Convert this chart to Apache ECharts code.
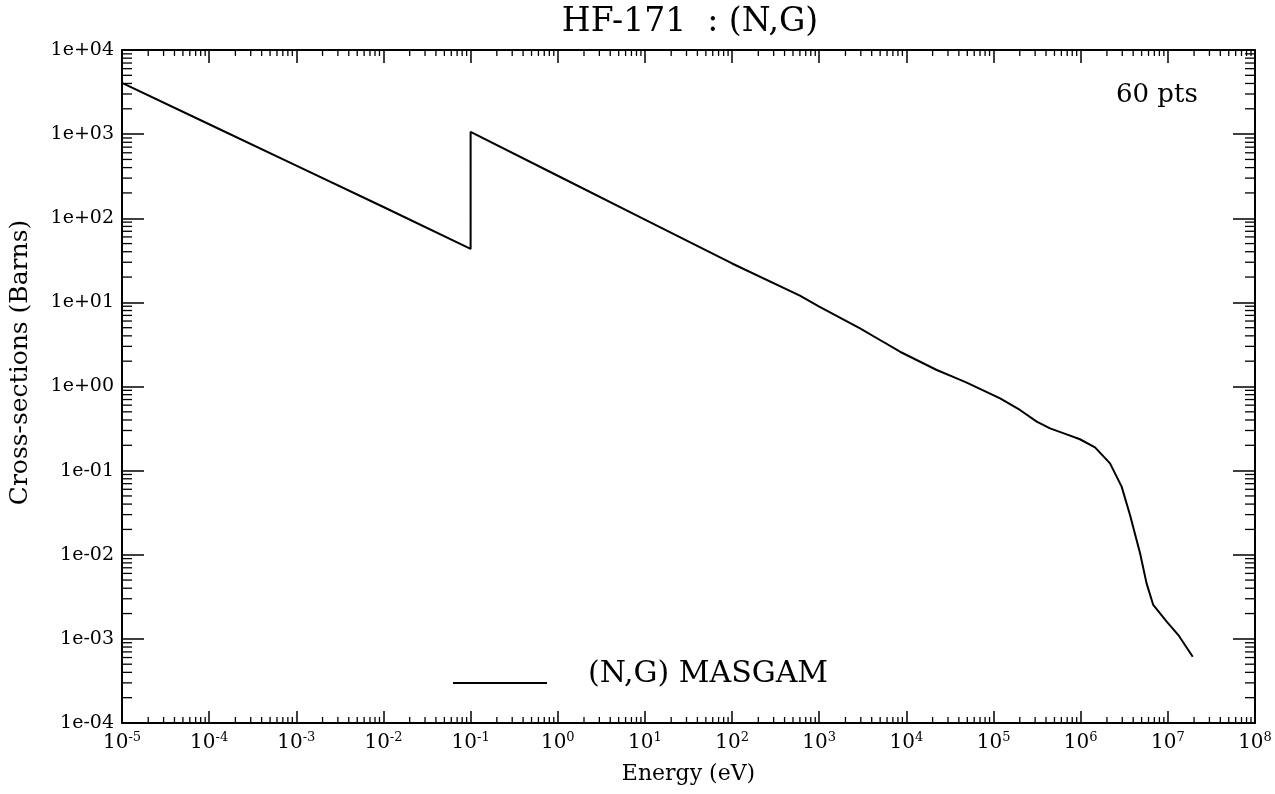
<!DOCTYPE html>
<html>
<head>
<meta charset="utf-8">
<title>HF-171 : (N,G)</title>
<script src="https://cdn.jsdelivr.net/npm/echarts@6/dist/echarts.min.js"></script>
<style>
  html, body { margin: 0; padding: 0; background: #fff; }
  #chart { width: 1275px; height: 794px; }
</style>
</head>
<body>
<div id="chart"></div>
<script>
// Capture cross-section for Hf-171, MASGAM evaluation (energy in eV, sigma in barns)
const energy = [
  1e-5, 1e-4, 1e-3, 1e-2, 0.1,
  0.1, 1, 10, 100, 600, 1000, 2940, 4980, 8450,
  2.23e4, 3.78e4, 4.92e4, 1.19e5, 2.01e5, 3.13e5, 4.45e5, 6.9e5, 9.8e5,
  1.46e6, 2.17e6, 2.95e6, 3.68e6, 4.8e6, 5.7e6, 6.8e6, 9.7e6, 1.32e7, 1.93e7
];
const sigma = [
  4060, 1310, 423, 136, 43.2,
  1065, 320, 96.4, 29.0, 12.0, 8.9, 4.92, 3.57, 2.59,
  1.57, 1.25, 1.11, 0.724, 0.526, 0.382, 0.318, 0.270, 0.236,
  0.189, 0.122, 0.0645, 0.0297, 0.0104, 0.00457, 0.00253, 0.0016, 0.00111, 0.000614
];

const seriesName = '(N,G) MASGAM';
const chartTitle = 'HF-171  : (N,G)';
const pointCount = '60 pts';
const xAxisTitle = 'Energy (eV)';
const yAxisTitle = 'Cross-sections (Barns)';

// Axis ranges as decade exponents
const xExpMin = -5, xExpMax = 8;
const yExpMin = -4, yExpMax = 4;
const X_MIN = Math.pow(10, xExpMin), X_MAX = Math.pow(10, xExpMax);
const Y_MIN = Math.pow(10, yExpMin), Y_MAX = Math.pow(10, yExpMax);

// Minor log ticks (2..9 within each decade)
function minorTicks(e0, e1) {
  const out = [];
  for (let e = e0; e < e1; e++) {
    for (let k = 2; k <= 9; k++) out.push(k * Math.pow(10, e));
  }
  return out;
}
const xMinor = minorTicks(xExpMin, xExpMax);
const yMinor = minorTicks(yExpMin, yExpMax);

const FONT = 'DejaVu Serif';
const INK = '#000';

function expOf(v) { return Math.round(Math.log10(v)); }
function yLabel(v) {
  const e = expOf(v);
  const s = e < 0 ? '-' : '+';
  const a = Math.abs(e);
  return '1e' + s + (a < 10 ? '0' + a : String(a));
}
function xLabel(v) {
  return '{b|10}{s|' + expOf(v) + '}';
}

const chart = echarts.init(document.getElementById('chart'), null, { renderer: 'canvas' });

const option = {
  backgroundColor: '#fff',
  animation: false,
  title: [
    {
      text: chartTitle,
      left: 685,
      textAlign: 'center',
      top: 1,
      textStyle: { fontFamily: FONT, fontSize: 33, fontWeight: 'normal', color: INK }
    },
    {
      text: pointCount,
      left: 1111,
      top: 77,
      textStyle: { fontFamily: FONT, fontSize: 26, fontWeight: 'normal', color: INK }
    }
  ],
  legend: {
    left: 448,
    top: 654,
    icon: 'rect',
    itemWidth: 94,
    itemHeight: 2,
    data: [seriesName],
    selectedMode: false,
    formatter: function (name) { return '{t|' + name + '}'; },
    textStyle: {
      color: INK,
      rich: {
        t: { fontFamily: FONT, fontSize: 30, color: INK, padding: [0, 0, 18, 36] }
      }
    }
  },
  grid: { left: 122, right: 20, top: 50, bottom: 71, containLabel: false },
  xAxis: [
    {
      type: 'log', logBase: 10, min: X_MIN, max: X_MAX, interval: 1,
      position: 'bottom',
      name: xAxisTitle, nameLocation: 'middle', nameGap: 40,
      nameTextStyle: { fontFamily: FONT, fontSize: 22, color: INK },
      axisLine: { onZero: false, lineStyle: { color: INK, width: 2 } },
      axisTick: { inside: true, length: 12, lineStyle: { color: INK, width: 1.5 } },
      splitLine: { show: false },
      axisLabel: {
        margin: 8, color: INK, showMinLabel: true, showMaxLabel: true,
        formatter: xLabel,
        rich: {
          b: { fontFamily: FONT, fontSize: 20, color: INK, lineHeight: 24 },
          s: { fontFamily: FONT, fontSize: 13, color: INK, verticalAlign: 'top', padding: [0, 0, 10, 0] }
        }
      }
    },
    {
      type: 'log', logBase: 10, min: X_MIN, max: X_MAX, interval: 1,
      position: 'top',
      axisLine: { onZero: false, lineStyle: { color: INK, width: 2 } },
      axisTick: { inside: true, length: 13, lineStyle: { color: INK, width: 1.5 } },
      axisLabel: { show: false },
      splitLine: { show: false }
    }
  ],
  yAxis: [
    {
      type: 'log', logBase: 10, min: Y_MIN, max: Y_MAX, interval: 1,
      position: 'left',
      name: yAxisTitle, nameLocation: 'middle', nameGap: 89, nameRotate: 90,
      nameTextStyle: { fontFamily: FONT, fontSize: 25, color: INK, padding: [0, 0, 0, 48] },
      axisLine: { onZero: false, lineStyle: { color: INK, width: 2 } },
      axisTick: { inside: true, length: 22, lineStyle: { color: INK, width: 1.5 } },
      splitLine: { show: false },
      axisLabel: {
        margin: 8, color: INK, fontFamily: FONT, fontSize: 19,
        showMinLabel: true, showMaxLabel: true,
        formatter: yLabel
      }
    },
    {
      type: 'log', logBase: 10, min: Y_MIN, max: Y_MAX, interval: 1,
      position: 'right',
      axisLine: { onZero: false, lineStyle: { color: INK, width: 2 } },
      axisTick: { inside: true, length: 22, lineStyle: { color: INK, width: 1.5 } },
      axisLabel: { show: false },
      splitLine: { show: false }
    }
  ],
  series: [
    {
      name: seriesName,
      type: 'line',
      xAxisIndex: 0, yAxisIndex: 0,
      data: energy.map((e, i) => [e, sigma[i]]),
      showSymbol: false,
      symbol: 'none',
      smooth: false,
      lineStyle: { color: INK, width: 2 },
      itemStyle: { color: INK },
      z: 5
    },
    {
      // minor ticks on bottom and top frame edges
      type: 'custom',
      xAxisIndex: 0, yAxisIndex: 0,
      clip: false,
      silent: true,
      data: xMinor.map(v => [v, Y_MIN]),
      renderItem: function (params, api) {
        const v = api.value(0);
        const b = api.coord([v, Y_MIN]);
        const t = api.coord([v, Y_MAX]);
        const st = { stroke: INK, lineWidth: 1.3 };
        return {
          type: 'group',
          children: [
            { type: 'line', shape: { x1: b[0], y1: b[1], x2: b[0], y2: b[1] - 6 }, style: st },
            { type: 'line', shape: { x1: t[0], y1: t[1], x2: t[0], y2: t[1] + 6 }, style: st }
          ]
        };
      }
    },
    {
      // minor ticks on left and right frame edges
      type: 'custom',
      xAxisIndex: 0, yAxisIndex: 0,
      clip: false,
      silent: true,
      data: yMinor.map(v => [X_MIN, v]),
      renderItem: function (params, api) {
        const v = api.value(1);
        const l = api.coord([X_MIN, v]);
        const r = api.coord([X_MAX, v]);
        const st = { stroke: INK, lineWidth: 1.3 };
        return {
          type: 'group',
          children: [
            { type: 'line', shape: { x1: l[0], y1: l[1], x2: l[0] + 10, y2: l[1] }, style: st },
            { type: 'line', shape: { x1: r[0], y1: r[1], x2: r[0] - 10, y2: r[1] }, style: st }
          ]
        };
      }
    }
  ]
};

chart.setOption(option);
</script>
</body>
</html>
